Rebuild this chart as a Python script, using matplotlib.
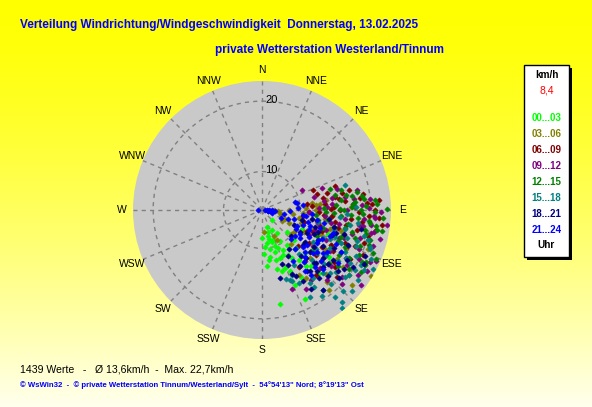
import numpy as np
import matplotlib
matplotlib.use("Agg")
import matplotlib.pyplot as plt
import matplotlib.transforms as mtransforms
from matplotlib.patches import Rectangle

W, H = 592, 407

# Windrichtung (Grad) und Geschwindigkeit (km/h), je Zeitblock
dir_00_03 = [181, 164, 159, 170, 164, 160, 155, 175, 169, 154, 152, 145, 131, 136, 164, 176, 153, 168, 172, 160,
             150, 166, 158, 155, 148, 140, 172, 178, 162, 147, 142, 135, 128, 120, 125, 138, 115, 110, 150, 166,
             157, 163, 167, 150, 144, 139, 133, 127, 156, 162]
spd_00_03 = [8.0, 7.1, 8.8, 11.5, 12.2, 12.1, 11.9, 12.9, 18.3, 18.8, 11.2, 10.8, 9.0, 5.1, 5.9, 9.8, 7.0, 10.2, 9.0, 10.0,
             9.5, 13.5, 13.8, 14.5, 13.0, 12.0, 12.0, 11.0, 9.2, 8.0, 15.0, 13.5, 12.5, 14.0, 16.5, 17.0, 11.0, 15.0, 16.0, 7.8,
             10.5, 11.0, 8.5, 12.3, 13.8, 15.5, 11.0, 14.2, 16.5, 14.0]

dir_03_06 = [100, 90, 85, 95, 105, 110, 115, 98, 92, 120, 176, 153, 155, 82, 84, 85, 81, 125, 121, 147,
             150, 135, 108, 118, 128, 100, 112, 130, 140, 122, 105, 95, 88, 115, 135, 125, 102, 140, 110, 130,
             87, 90, 94, 98, 103, 106, 112, 117, 123, 131, 138, 127]
spd_03_06 = [6.1, 7.9, 9.6, 5.5, 6.5, 7.5, 8.5, 8.8, 4.5, 7.0, 6.9, 9.1, 8.2, 12.0, 13.2, 12.6, 14.2, 18.8, 22.2, 16.5,
             15.6, 17.7, 10.5, 11.5, 12.5, 12.0, 14.0, 9.8, 11.0, 15.5, 16.5, 15.0, 17.5, 18.0, 14.5, 10.0, 9.8, 19.5, 20.5, 21.0,
             11.0, 12.5, 10.5, 14.0, 13.0, 15.0, 12.5, 16.0, 17.5, 16.0, 18.5, 20.0]

dir_06_09 = [69, 74, 80, 87, 77, 82, 85, 90, 78, 88, 92, 95, 100, 97, 83, 75, 72, 86, 93, 105,
             110, 102, 108, 112, 118, 120, 125, 98, 90, 94, 147, 140, 130, 115, 106, 89, 81, 100, 128, 135,
             84, 86, 91, 96, 99, 103, 107, 111, 114, 117, 104, 93, 79, 82, 88, 95, 101, 109, 113, 122,
             126, 132, 119, 97, 85]
spd_06_09 = [12.7, 13.1, 15.5, 20.1, 17.5, 11.1, 14.0, 16.0, 16.5, 18.0, 13.0, 15.0, 17.0, 19.0, 18.8, 14.5, 15.8, 12.0, 11.5, 13.5,
             15.5, 18.5, 19.8, 17.5, 14.0, 16.5, 13.0, 10.5, 20.5, 21.0, 14.6, 16.9, 15.0, 11.8, 10.8, 14.8, 19.2, 20.8, 18.0, 12.0,
             16.8, 19.5, 18.5, 17.5, 15.5, 16.0, 17.0, 18.8, 20.2, 16.0, 20.0, 19.8, 13.8, 16.0, 15.2, 13.8, 12.8, 14.0, 12.8, 15.0,
             17.5, 19.0, 19.0, 21.5, 21.0]

dir_09_12 = [63, 81, 84, 87, 93, 94, 98, 99, 99, 101, 114, 116, 124, 137, 159, 151, 70, 76, 85, 90,
             95, 100, 105, 108, 110, 88, 78, 92, 103, 115, 120, 127, 130, 97, 112, 82, 74, 118, 140, 125,
             86, 89, 91, 95, 102, 104, 106, 109, 113, 117, 120, 123, 127, 133, 80, 83, 87, 96, 101, 107,
             111, 121, 129, 145, 135]
spd_09_12 = [11.0, 16.9, 20.0, 18.9, 20.4, 20.6, 20.1, 18.7, 19.2, 20.6, 21.9, 21.3, 20.8, 18.4, 16.9, 17.6, 14.0, 12.5, 15.0, 17.0,
             14.0, 16.0, 18.0, 21.0, 16.5, 13.0, 18.5, 11.5, 13.0, 15.0, 18.5, 16.0, 19.5, 22.0, 19.5, 13.8, 16.0, 12.5, 14.5, 13.8,
             17.8, 19.8, 21.2, 19.2, 20.3, 21.5, 19.2, 17.2, 18.0, 20.0, 21.5, 19.0, 21.8, 20.0, 15.0, 18.0, 14.2, 16.8, 15.0, 14.5,
             13.0, 16.2, 17.5, 17.0, 16.5]

dir_12_15 = [73, 89.5, 85, 88, 100, 99.7, 105.5, 117.5, 116.6, 113.4, 88, 97, 86, 98.5, 83, 90, 93, 95, 80, 78,
             92, 102, 107, 110, 96, 91, 85, 103, 112, 120, 124, 128, 100, 106, 115, 88, 95, 130, 118, 82,
             84, 87, 90, 92, 94, 98, 101, 104, 108, 111, 115, 119, 122, 81, 79, 76, 86, 89, 94, 99,
             103, 109, 114, 126, 92]
spd_12_15 = [15.0, 21.9, 18.0, 17.6, 21.0, 21.6, 20.4, 20.5, 20.9, 21.8, 19.4, 20.0, 17.8, 14.5, 16.3, 16.5, 17.5, 18.5, 17.0, 15.5,
             15.2, 17.0, 18.5, 19.5, 19.8, 20.5, 20.6, 15.5, 16.5, 17.5, 19.5, 17.0, 13.0, 14.0, 13.5, 13.8, 12.5, 14.0, 21.0, 19.0,
             19.2, 20.8, 18.8, 19.0, 21.5, 20.8, 19.5, 18.0, 20.5, 21.2, 19.8, 18.8, 21.0, 17.8, 18.5, 16.5, 15.5, 16.0, 16.2, 17.2,
             19.8, 16.8, 17.8, 18.2, 14.0]

dir_15_18 = [73, 141, 135, 120.5, 110, 104, 108, 161, 157, 151, 155, 143, 147, 121, 136, 109, 120, 158, 113, 117,
             118, 125, 130, 115, 122, 128, 135, 140, 112, 105, 100, 110, 127, 132, 145, 138, 150, 95, 102, 118,
             106, 111, 114, 116, 119, 123, 126, 129, 133, 137, 140, 143, 146, 131, 124, 119, 113, 108, 103, 98,
             93, 88, 139, 153, 126]
spd_15_18 = [17.2, 22.1, 20.7, 21.1, 20.8, 19.6, 18.9, 15.3, 15.9, 18.9, 15.1, 16.9, 17.3, 19.2, 17.3, 20.6, 18.5, 15.7, 17.0, 18.0,
             17.5, 16.0, 18.5, 14.5, 13.5, 14.8, 15.0, 13.0, 12.0, 15.5, 17.5, 16.0, 20.0, 21.5, 19.5, 12.0, 14.0, 16.0, 13.0, 22.0,
             20.2, 19.0, 21.3, 19.5, 20.5, 20.2, 21.2, 19.8, 18.0, 19.0, 20.5, 19.0, 18.0, 16.5, 17.8, 16.0, 15.5, 17.5, 17.0, 18.5,
             17.0, 18.2, 21.5, 16.5, 14.5]

dir_18_21 = [165, 150.5, 143.6, 131.5, 128.5, 155, 138, 114, 120.6, 101, 104, 134, 125, 130, 140, 145, 120, 115, 110, 118,
             128, 135, 150, 160, 112, 106, 98, 100, 122, 140, 148, 132, 115, 125, 108, 155, 137, 118,
             126, 129, 133, 136, 142, 146, 153, 121, 117, 111, 107, 103, 143, 131, 127]
spd_18_21 = [15.0, 12.4, 15.7, 19.3, 18.6, 15.0, 16.6, 20.5, 18.7, 19.0, 10.4, 15.7, 14.0, 12.5, 13.5, 11.5, 11.0, 13.0, 15.5, 16.5,
             16.0, 18.0, 16.5, 13.0, 18.0, 17.0, 14.5, 12.0, 19.8, 17.5, 18.0, 10.0, 9.5, 17.2, 12.8, 13.5, 14.2, 20.8,
             19.0, 17.0, 16.8, 15.5, 16.0, 14.5, 15.5, 15.0, 12.0, 13.5, 16.0, 15.5, 19.0, 14.0, 12.5]

dir_21_24 = [92, 95, 98, 90, 100, 88, 270, 105, 93, 96, 76, 83, 79, 87, 97, 134, 137, 128, 132, 109,
             100, 111, 125, 149, 115, 120, 105, 110, 118, 122, 130, 140, 138, 128, 102, 108, 95, 115, 125, 100,
             92, 112, 145, 135, 118, 105, 107, 113, 116, 121, 123, 127, 131, 134, 141, 143, 119, 126, 110, 98]
spd_21_24 = [2.5, 3.0, 3.5, 4.0, 2.8, 3.2, 2.2, 4.2, 4.8, 2.0, 9.3, 10.5, 9.5, 9.6, 10.5, 17.0, 16.0, 10.6, 12.8, 12.0,
             12.8, 15.3, 15.6, 13.4, 10.0, 12.5, 9.0, 8.0, 14.0, 11.0, 14.5, 12.0, 14.0, 13.0, 14.0, 15.5, 12.0, 16.5, 18.0, 7.0,
             8.0, 6.5, 15.5, 10.5, 17.5, 11.5, 13.5, 12.0, 14.5, 14.0, 16.0, 14.8, 16.0, 13.5, 14.5, 16.5, 10.0, 11.5, 10.8, 11.0]

group_labels = ["00...03", "03...06", "06...09", "09...12", "12...15", "15...18", "18...21", "21...24"]
group_colors = ["#00ff00", "#808000", "#800000", "#800080", "#008000", "#008080", "#000080", "#0000ff"]
group_dirs = [dir_00_03, dir_03_06, dir_06_09, dir_09_12, dir_12_15, dir_15_18, dir_18_21, dir_21_24]
group_spds = [spd_00_03, spd_03_06, spd_06_09, spd_09_12, spd_12_15, spd_15_18, spd_18_21, spd_21_24]

compass = ["N", "NNE", "NE", "ENE", "E", "ESE", "SE", "SSE",
           "S", "SSW", "SW", "WSW", "W", "WNW", "NW", "NNW"]
ring_values = [10, 20]
r_max = 22.4
current_speed = "8,4"

title = "Verteilung Windrichtung/Windgeschwindigkeit  Donnerstag, 13.02.2025"
subtitle = "private Wetterstation Westerland/Tinnum"
stats = "1439 Werte   -   \u00d8 13,6km/h  -  Max. 22,7km/h"
footer = "\u00a9 WsWin32  -  \u00a9 private Wetterstation Tinnum/Westerland/Sylt  -  54\u00b054'13\" Nord; 8\u00b019'13\" Ost"

plt.rcParams["font.family"] = "Liberation Sans"


def fx(x):
    return x / W


def fy(y):
    return 1 - y / H


fig = plt.figure(figsize=(W / 100, H / 100), dpi=100)

# gelber Verlauf im Hintergrund
bg = fig.add_axes([0, 0, 1, 1], zorder=-10)
yy = np.linspace(0, 1, H)[:, None]
img = np.dstack([np.ones((H, 1)), np.ones((H, 1)), 0.93 * yy ** 1.4])
bg.imshow(img, aspect="auto", extent=[0, 1, 0, 1], origin="upper")
bg.axis("off")

cx, cy, rad = 262, 210, 129
ax = fig.add_axes([fx(cx - rad), fy(cy + rad), 2 * rad / W, 2 * rad / H], projection="polar")
ax.set_theta_zero_location("N")
ax.set_theta_direction(-1)
ax.set_rscale("function", functions=(lambda r: np.power(np.clip(r, 0, None), 1.5),
                                     lambda r: np.power(np.clip(r, 0, None), 1 / 1.5)))
ax.set_rlim(0, r_max)
ax.set_facecolor("#c9c9c9")
ax.spines["polar"].set_visible(False)
ax.set_thetagrids(np.arange(0, 360, 22.5), compass)
ax.set_rgrids(ring_values, labels=["" for v in ring_values])
ax.grid(True, color="#808080", linestyle=(0, (3, 3)), linewidth=1)
ax.tick_params(axis="x", pad=1, labelsize=7.5, colors="black", length=0)
ax.tick_params(axis="y", length=0)

shift = mtransforms.offset_copy(ax.transData, fig=fig, x=7, y=1, units="points")
for v in ring_values:
    ax.text(0, v, str(v), transform=shift, ha="center", va="center", fontsize=8)

for dirs, spds, c in zip(group_dirs, group_spds, group_colors):
    ax.plot(np.deg2rad(dirs), spds, linestyle="none", marker="D", ms=2.7,
            color=c, mec=c, mew=0.4, zorder=3)

# Titel
fig.text(fx(20), fy(25), title, color="#0000ff", fontsize=8.5, fontweight="bold",
         ha="left", va="center")
fig.text(fx(215), fy(50), subtitle, color="#0000ff", fontsize=8.5, fontweight="bold",
         ha="left", va="center")

# Legende
fig.add_artist(Rectangle((fx(527), fy(260)), 45 / W, 192 / H, transform=fig.transFigure,
                         facecolor="black", edgecolor="none"))
fig.add_artist(Rectangle((fx(524), fy(257)), 45 / W, 192 / H, transform=fig.transFigure,
                         facecolor="white", edgecolor="black", linewidth=1))
lx = fx(546.5)
fig.text(lx, fy(75.5), "km/h", fontsize=7.2, fontweight="bold", ha="center", va="center")
fig.text(lx, fy(90.5), current_speed, fontsize=7.5, color="#ff0000", ha="center", va="center")
for i, (lab, c) in enumerate(zip(group_labels, group_colors)):
    fig.text(lx, fy(118 + 16 * i), lab, fontsize=7, fontweight="bold", color=c,
             ha="center", va="center")
fig.text(lx, fy(245), "Uhr", fontsize=7.2, fontweight="bold", ha="center", va="center")

# Fusszeilen
fig.text(fx(20), fy(369), stats, fontsize=7.6, ha="left", va="center")
fig.text(fx(20), fy(385.5), footer, fontsize=5.6, fontweight="bold", color="#0000ff",
         ha="left", va="center")

fig.savefig("out.png", dpi=100)
